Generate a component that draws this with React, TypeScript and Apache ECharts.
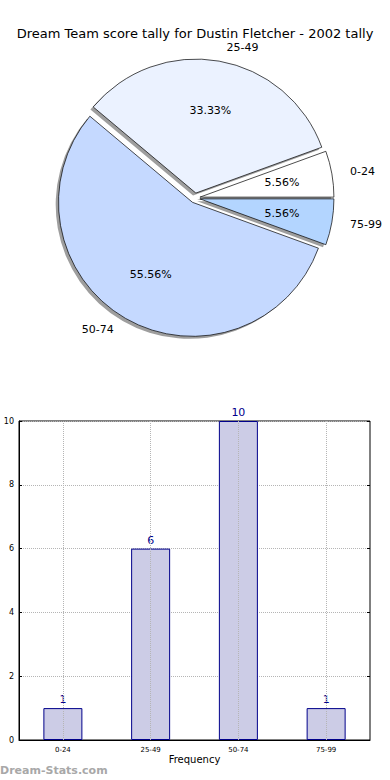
import React, { useEffect, useRef } from "react";
import * as echarts from "echarts";

const titleText = "Dream Team score tally for Dustin Fletcher - 2002 tally";
const categories = ["0-24", "25-49", "50-74", "75-99"];
const counts = [1, 6, 10, 1];
const sliceColors = ["#FFFFFF", "#EBF2FF", "#C5D9FF", "#B3D5FF"];
const yTicksMax = 10;
const yTickStep = 2;
const xAxisName = "Frequency";
const yAxisName = "Score Interval";
const watermark = "Dream-Stats.com";

const FONT = "DejaVu Sans";

export default function App() {
  const ref = useRef<HTMLDivElement>(null);

  useEffect(() => {
    if (!ref.current) return;
    const chart = echarts.init(ref.current, undefined, { renderer: "svg" });
    const R = 134;
    const C: [number, number] = [195, 198];
    const explode = 5;
    const total = counts.reduce((a, b) => a + b, 0);

    const pieData = (colorFn: (i: number) => string) =>
      categories.map((c, i) => ({
        name: c,
        value: counts[i],
        selected: true,
        itemStyle: { color: colorFn(i) },
      }));

    const common = {
      type: "pie" as const,
      startAngle: 0,
      clockwise: false,
      selectedMode: "multiple" as const,
      selectedOffset: explode,
      avoidLabelOverlap: false,
      silent: true,
      animation: false,
      emphasis: { disabled: true },
      labelLine: { show: false },
    };

    chart.setOption({
      animation: false,
      title: {
        text: titleText,
        left: "center",
        top: 22,
        textStyle: { fontSize: 13, fontWeight: "normal", fontFamily: FONT, color: "#000" },
      },
      grid: {
        left: 19,
        top: 421,
        width: 351,
        height: 319,
        show: true,
        borderColor: "#000",
        borderWidth: 1,
        backgroundColor: "transparent",
        containLabel: false,
        outerBoundsMode: "none",
      },
      xAxis: [
        {
          type: "category",
          data: categories,
          position: "bottom",
          axisLine: { lineStyle: { color: "#000", width: 1 } },
          axisTick: { inside: true, alignWithLabel: true, length: 3, lineStyle: { color: "#000" } },
          axisLabel: { fontSize: 7, color: "#000", margin: 6, fontFamily: FONT },
          splitLine: { show: false },
          name: xAxisName,
          nameLocation: "middle",
          nameGap: 14,
          nameTextStyle: { fontSize: 10, color: "#000", fontFamily: FONT },
        },
        {
          type: "category",
          data: categories,
          position: "top",
          axisLine: { show: false },
          axisTick: { inside: true, alignWithLabel: true, length: 3, lineStyle: { color: "#000" } },
          axisLabel: { show: false },
          splitLine: { show: false },
        },
      ],
      yAxis: [
        {
          type: "value",
          min: 0,
          max: yTicksMax,
          interval: yTickStep,
          position: "left",
          axisLine: { show: true, lineStyle: { color: "#000" } },
          axisTick: { show: true, inside: true, length: 3, lineStyle: { color: "#000" } },
          axisLabel: { fontSize: 8, color: "#000", margin: 5, fontFamily: FONT },
          splitLine: { show: true, lineStyle: { type: "dotted", color: "#b5b5b5", width: 1 } },
          name: yAxisName,
          nameLocation: "middle",
          nameRotate: 90,
          nameGap: 17,
          nameTextStyle: { fontSize: 10, color: "#000", fontFamily: FONT },
        },
        {
          type: "value",
          min: 0,
          max: yTicksMax,
          interval: yTickStep,
          position: "right",
          axisLine: { show: false },
          axisTick: { show: true, inside: true, length: 3, lineStyle: { color: "#000" } },
          axisLabel: { show: false },
          splitLine: { show: false },
        },
      ],
      graphic: [
        {
          type: "text",
          left: 0,
          top: 765,
          style: {
            text: watermark,
            fontSize: 11,
            fontWeight: "bold",
            fontFamily: FONT,
            fill: "#a8a8a8",
          },
        },
      ],
      series: [
        {
          ...common,
          name: "shadow",
          center: [C[0] - 2.8, C[1] + 2.5],
          radius: R,
          z: 1,
          label: { show: false },
          itemStyle: { borderWidth: 0 },
          data: pieData(() => "rgba(40,40,40,0.45)"),
        },
        {
          ...common,
          name: "pie",
          center: C,
          radius: R,
          z: 2,
          itemStyle: { borderColor: "#000", borderWidth: 0.7 },
          label: {
            show: true,
            position: "outside",
            formatter: "{b}",
            fontSize: 11,
            color: "#000",
            fontFamily: FONT,
          },
          labelLine: { show: false, length: R * 0.1, length2: 0 },
          data: pieData((i) => sliceColors[i]),
        },
        {
          ...common,
          name: "pct",
          center: C,
          radius: R * 1.2,
          z: 3,
          itemStyle: { borderWidth: 0 },
          label: {
            show: true,
            position: "inside",
            formatter: (p: any) => ((p.value / total) * 100).toFixed(2) + "%",
            fontSize: 11,
            color: "#000",
            fontFamily: FONT,
          },
          data: pieData(() => "rgba(0,0,0,0)"),
        },
        {
          type: "bar",
          xAxisIndex: 0,
          yAxisIndex: 0,
          data: counts,
          barWidth: 39,
          itemStyle: { color: "#CCCCE6", borderColor: "#00008B", borderWidth: 1 },
          label: {
            show: true,
            position: "top",
            distance: 3,
            fontSize: 11,
            color: "#00008B",
            fontFamily: FONT,
          },
          emphasis: { disabled: true },
          silent: true,
          markLine: {
            silent: true,
            symbol: ["none", "none"],
            label: { show: false },
            lineStyle: { type: "dotted", color: "#b5b5b5", width: 1 },
            data: categories.map((c) => ({ xAxis: c })),
          },
        },
      ],
    });
    return () => chart.dispose();
  }, []);

  return (
    <div
      ref={ref}
      style={{ position: "absolute", left: 0, top: 0, width: 390, height: 780 }}
    />
  );
}
